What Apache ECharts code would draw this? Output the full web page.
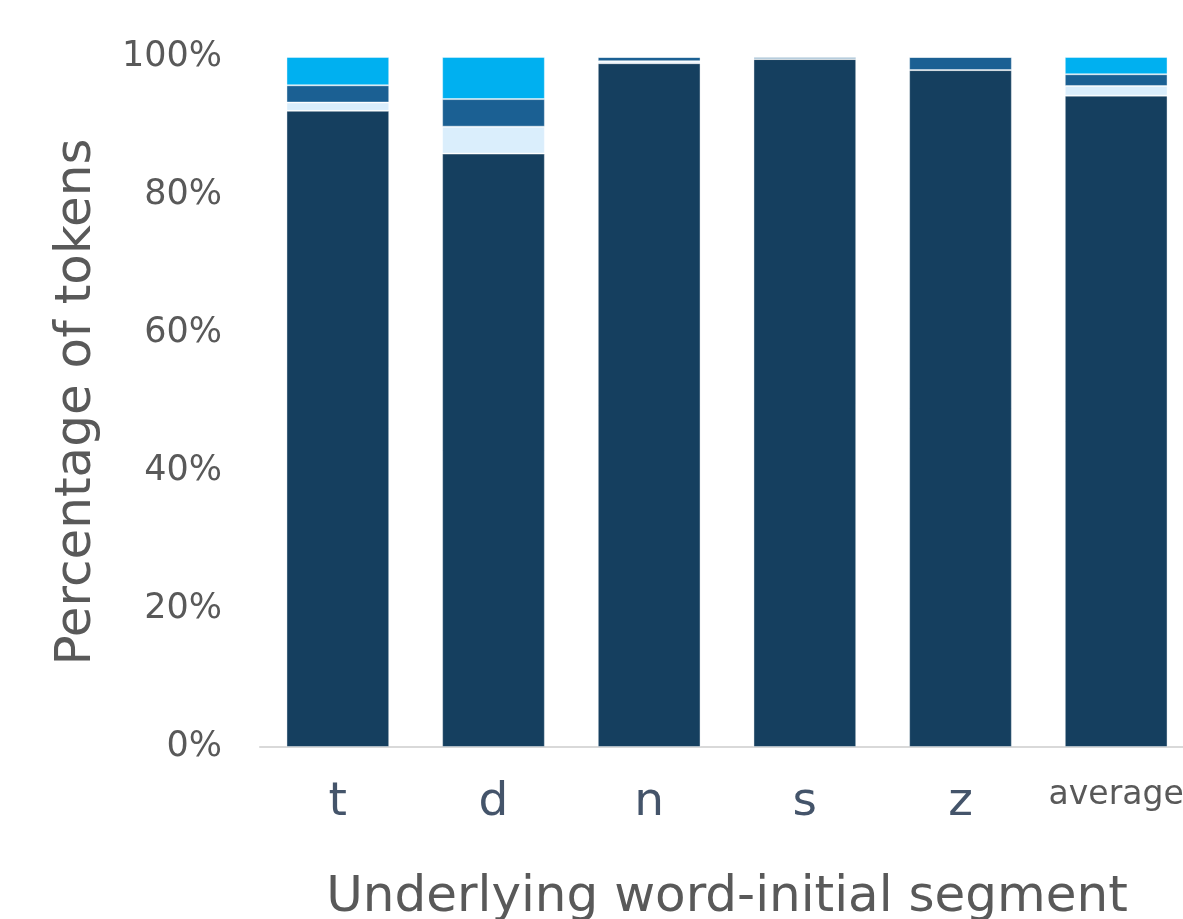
<!DOCTYPE html>
<html><head><meta charset="utf-8">
<script src="https://cdn.jsdelivr.net/npm/echarts@6/dist/echarts.min.js"></script>
<style>html,body{margin:0;padding:0;background:#fff}#c{width:1183px;height:919px}</style>
</head><body><div id="c"></div>
<script>
const categories = ['t', 'd', 'n', 's', 'z', 'average'];
const seriesNames = ['S1', 'S2', 'S3', 'S4'];
const s1 = [92.2, 86.0, 99.1, 99.7, 98.1, 94.4];
const s2 = [1.2, 3.9, 0.3, 0.0, 0.0, 1.4];
const s3 = [2.5, 4.0, 0.6, 0.3, 1.9, 1.7];
const s4 = [4.1, 6.1, 0.0, 0.0, 0.0, 2.5];
const yTicks = [0, 20, 40, 60, 80, 100];
const colors = ['#153F5F', '#DAEEFC', '#1B6093', '#00B0F0'];
const values = [s1, s2, s3, s4];
const font = 'DejaVu Sans';

const chart = echarts.init(document.getElementById('c'));
chart.setOption({
  animation: false,
  grid: { left: 260, top: 57, bottom: 172, right: -11, containLabel: false, outerBoundsMode: 'none' },
  xAxis: {
    type: 'category', data: categories,
    axisLine: { lineStyle: { color: '#D9D9D9', width: 2 } },
    axisTick: { show: false },
    axisLabel: {
      interval: 0, margin: 32,
      formatter: v => v === 'average' ? '{s|' + v + '}' : '{b|' + v + '}',
      rich: {
        b: { fontFamily: font, fontSize: 47, color: '#44546A' },
        s: { fontFamily: font, fontSize: 33, color: '#595959', padding: [0, 0, 12, 0] }
      }
    },
    name: 'Underlying word-initial segment', nameLocation: 'middle', nameGap: 126,
    nameTextStyle: { fontFamily: font, fontSize: 50, color: '#595959' }
  },
  yAxis: {
    type: 'value', min: 0, max: 100, interval: 20,
    splitLine: { show: false },
    axisLine: { show: false }, axisTick: { show: false },
    axisLabel: { formatter: '{value}%', margin: 38, fontFamily: font, fontSize: 35, color: '#595959' },
    name: 'Percentage of tokens', nameLocation: 'middle', nameGap: 158, nameRotate: 90,
    nameTextStyle: { fontFamily: font, fontSize: 50, color: '#595959' }
  },
  series: values.map((v, i) => ({
    name: seriesNames[i], type: 'bar', stack: 'total', data: v,
    barCategoryGap: '34%',
    itemStyle: { color: colors[i], borderColor: 'rgba(255,255,255,0.4)', borderWidth: 1 }
  }))
});
</script></body></html>
